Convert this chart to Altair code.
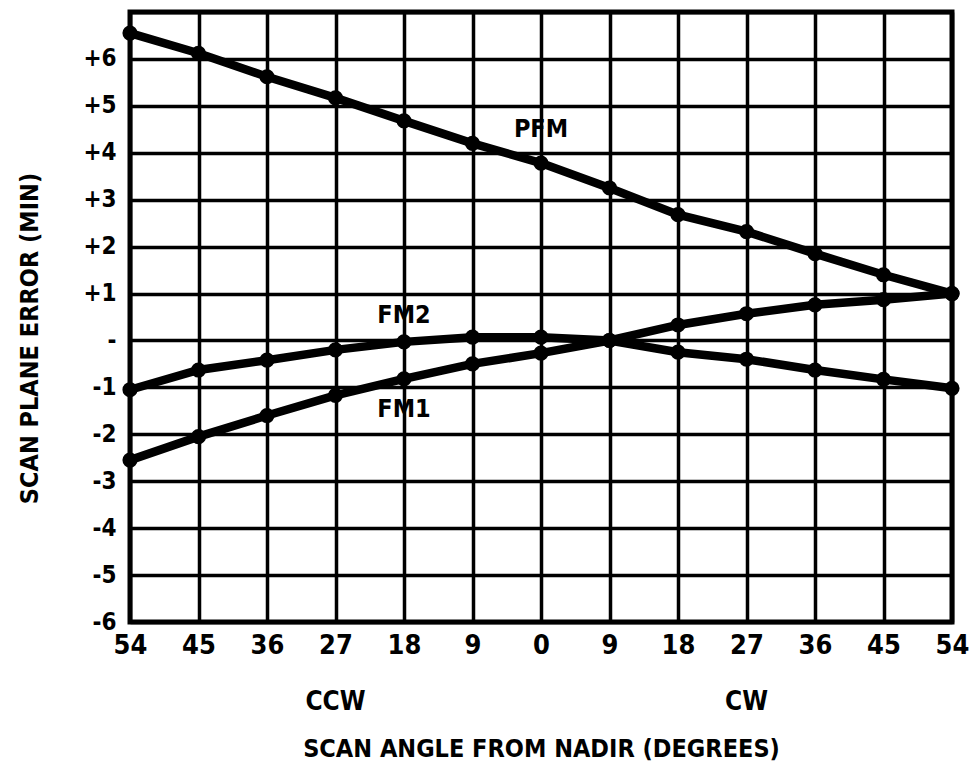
import altair as alt
import pandas as pd

# ---- data ----
angles = [-54, -45, -36, -27, -18, -9, 0, 9, 18, 27, 36, 45, 54]
pfm = [6.55, 6.12, 5.62, 5.17, 4.68, 4.20, 3.78, 3.25, 2.68, 2.32, 1.85, 1.40, 1.00]
fm1 = [-2.55, -2.05, -1.60, -1.17, -0.82, -0.50, -0.27, 0.00, 0.33, 0.57, 0.76, 0.87, 1.00]
fm2 = [-1.05, -0.63, -0.42, -0.20, -0.03, 0.07, 0.07, 0.00, -0.25, -0.40, -0.63, -0.83, -1.02]

x_ticks = [-54, -45, -36, -27, -18, -9, 0, 9, 18, 27, 36, 45, 54]
y_ticks = [-6, -5, -4, -3, -2, -1, 0, 1, 2, 3, 4, 5, 6, 7]

series_names = ["PFM", "FM1", "FM2"]
label_x = [0, -18, -18]
label_y = [4.5, -1.45, 0.55]

dir_names = ["CCW", "CW"]
dir_x = [-27, 27]

FONT = "DejaVu Sans Condensed, sans-serif"

rows = []
for name, vals in zip(series_names, [pfm, fm1, fm2]):
    for a, v in zip(angles, vals):
        rows.append({"series": name, "angle": a, "error": v})
df = pd.DataFrame(rows)

lab_df = pd.DataFrame({"name": series_names, "angle": label_x, "error": label_y})
dir_df = pd.DataFrame({"name": dir_names, "angle": dir_x})

x_enc = alt.X(
    "angle:Q",
    scale=alt.Scale(domain=[-54, 54], nice=False, zero=False),
    axis=alt.Axis(
        values=x_ticks,
        labelExpr="'' + abs(datum.value)",
        title="SCAN ANGLE FROM NADIR (DEGREES)",
        grid=True,
        ticks=False,
        domain=False,
        labelFontSize=27,
        labelFont=FONT,
        labelFontWeight="bold",
        labelColor="black",
        labelPadding=10,
        labelFlush=False,
        titleFont=FONT,
        titleFontSize=25,
        titleFontWeight="bold",
        titleColor="black",
        titlePadding=78,
    ),
)
y_enc = alt.Y(
    "error:Q",
    scale=alt.Scale(domain=[-6, 7], nice=False, zero=False),
    axis=alt.Axis(
        values=y_ticks,
        labelExpr="datum.value == 7 ? '' : (datum.value > 0 ? '+' + datum.value : (datum.value == 0 ? '-' : '' + datum.value))",
        title="SCAN PLANE ERROR (MIN)",
        grid=True,
        ticks=False,
        domain=False,
        labelFontSize=24,
        labelFont=FONT,
        labelFontWeight="bold",
        labelColor="black",
        labelPadding=14,
        titleFont=FONT,
        titleFontSize=25,
        titleFontWeight="bold",
        titleColor="black",
        titlePadding=40,
        titleY=326,
    ),
)

lines = alt.Chart(df).mark_line(color="black", strokeWidth=8.5).encode(
    x=x_enc, y=y_enc, detail="series:N", order="angle:Q"
)
points = alt.Chart(df).mark_circle(color="black", size=230, opacity=1).encode(
    x="angle:Q", y="error:Q"
)
labels = alt.Chart(lab_df).mark_text(
    font=FONT, fontSize=25, fontWeight="bold", color="black", baseline="middle", align="center"
).encode(x="angle:Q", y="error:Q", text="name:N")
dirs = alt.Chart(dir_df).mark_text(
    font=FONT, fontSize=26, fontWeight="bold", color="black", baseline="middle", align="center"
).encode(x="angle:Q", y=alt.value(690), text="name:N")

chart = alt.layer(lines, points, labels, dirs).properties(
    width=822,
    height=610,
    autosize=alt.AutoSizeParams(type="none"),
    padding={"left": 122, "top": 4, "right": 18, "bottom": 140},
).configure_view(
    stroke="black", strokeWidth=5
).configure_axis(
    gridColor="black", gridWidth=3.5, gridOpacity=1
)

chart.save("out.html", embed_options={"renderer": "svg", "actions": False})
